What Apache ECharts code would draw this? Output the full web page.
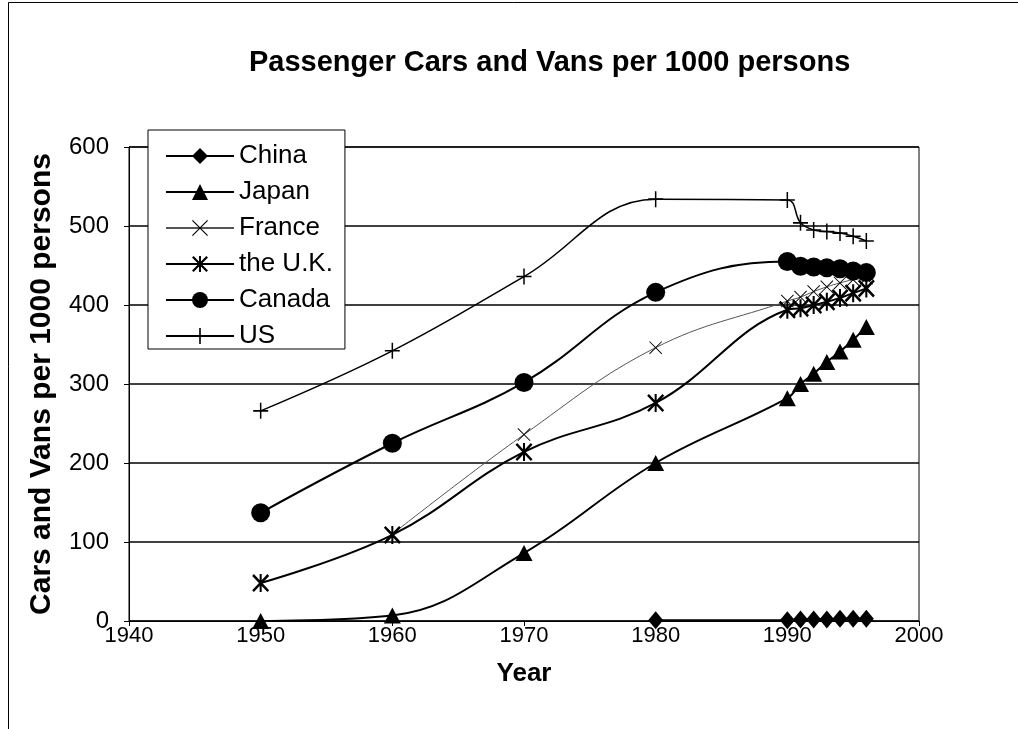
<!DOCTYPE html>
<html>
<head>
<meta charset="utf-8">
<script src="https://cdn.jsdelivr.net/npm/echarts@6/dist/echarts.min.js"></script>
<style>
html,body{margin:0;padding:0;background:#fff;}
#chart{width:1018px;height:729px;}
</style>
</head>
<body>
<div id="chart"></div>
<script>
// ---- data ----
const seriesNames = ['China', 'Japan', 'France', 'the U.K.', 'Canada', 'US'];
const yearsMain = [1950, 1960, 1970, 1980, 1990, 1991, 1992, 1993, 1994, 1995, 1996];
const yearsChina = [1980, 1990, 1991, 1992, 1993, 1994, 1995, 1996];
const yearsFrance = [1960, 1970, 1980, 1990, 1991, 1992, 1993, 1994, 1995, 1996];
const chinaValues = [1, 1, 2, 2, 2, 3, 3, 3];
const japanValues = [0, 7, 86, 200, 282, 300, 313, 328, 341, 356, 372];
const franceValues = [110, 236, 346, 405, 410, 417, 423, 428, 432, 434];
const ukValues = [48, 109, 214, 276, 394, 396, 400, 404, 409, 415, 421];
const canadaValues = [137, 225, 302, 416, 455, 449, 448, 447, 446, 443, 441];
const usValues = [266, 342, 436, 534, 533, 504, 495, 493, 491, 487, 481];
const xTicks = [1940, 1950, 1960, 1970, 1980, 1990, 2000];
const yTicks = [0, 100, 200, 300, 400, 500, 600];

function pairs(xs, ys) { return xs.map((x, i) => [x, ys[i]]); }

const FONT = 'Liberation Sans, Arial, sans-serif';
const PLUS = 'path://M9,0H11V9H20V11H11V20H9V11H0V9H9Z';
const XMARK = 'path://M0,1L1,0L20,19L19,20Z M19,0L20,1L1,20L0,19Z';
const STAR = 'path://M8.8,0L11.2,0L11.2,20L8.8,20Z M0,2L2,0L20,18L18,20Z M18,0L20,2L2,20L0,18Z';

function lineSeries(name, data, symbol, size, width, color, z) {
  return {
    name: name, type: 'line', data: data, smooth: 0.4,
    symbol: symbol, symbolSize: size, z: z,
    lineStyle: { color: color, width: width },
    itemStyle: { color: '#000', borderWidth: 0 },
    emphasis: { disabled: true }
  };
}

const chart = echarts.init(document.getElementById('chart'), null, { renderer: 'canvas' });
chart.setOption({
  animation: false,
  backgroundColor: '#fff',
  textStyle: { fontFamily: FONT },
  title: {
    text: 'Passenger Cars and Vans per 1000 persons',
    left: 244, top: 43,
    textStyle: { fontFamily: FONT, fontSize: 29, fontWeight: 'bold', color: '#000' }
  },
  graphic: [{
    type: 'rect', z: -10, silent: true,
    shape: { x: 8.5, y: 2.5, width: 1200, height: 1000 },
    style: { fill: 'transparent', stroke: '#000', lineWidth: 1 }
  }],
  legend: {
    orient: 'vertical', left: 148, top: 130,
    padding: [13, 12, 0, 17], itemGap: 10,
    itemWidth: 68, itemHeight: 20,
    backgroundColor: '#fff', borderColor: '#000', borderWidth: 1, borderRadius: 0,
    textStyle: { fontFamily: FONT, fontSize: 26, lineHeight: 22, color: '#000' },
    data: seriesNames, z: 20
  },
  grid: { left: 129, right: 99, top: 147, bottom: 108, show: true, borderColor: '#000', borderWidth: 1, backgroundColor: 'transparent' },
  xAxis: {
    type: 'value', min: xTicks[0], max: xTicks[xTicks.length - 1], interval: 10,
    name: 'Year', nameLocation: 'middle', nameGap: 40,
    nameTextStyle: { fontFamily: FONT, fontSize: 26, fontWeight: 'bold', color: '#000' },
    axisLine: { show: true, onZero: false, lineStyle: { color: '#000', width: 1 } },
    axisTick: { show: true, inside: false, length: 5, lineStyle: { color: '#000' } },
    axisLabel: { fontFamily: FONT, fontSize: 22, color: '#000', margin: 4, formatter: v => String(v) },
    splitLine: { show: false }
  },
  yAxis: {
    type: 'value', min: yTicks[0], max: yTicks[yTicks.length - 1], interval: 100,
    name: 'Cars and Vans per 1000 persons', nameLocation: 'middle', nameGap: 72, nameRotate: 90,
    nameTextStyle: { fontFamily: FONT, fontSize: 30, fontWeight: 'bold', color: '#000' },
    axisLine: { show: true, lineStyle: { color: '#000', width: 1 } },
    axisTick: { show: true, inside: false, length: 5, lineStyle: { color: '#000' } },
    axisLabel: { fontFamily: FONT, fontSize: 24, color: '#000', margin: 20, formatter: v => String(v) },
    splitLine: { show: true, lineStyle: { color: '#000', width: 1.5 } }
  },
  series: [
    lineSeries('China', pairs(yearsChina, chinaValues), 'diamond', [15, 18], 2, '#000', 2),
    lineSeries('Japan', pairs(yearsMain, japanValues), 'triangle', [17, 16], 2, '#000', 3),
    lineSeries('France', pairs(yearsFrance, franceValues), XMARK, [13, 13], 1, '#555', 4),
    lineSeries('the U.K.', pairs(yearsMain, ukValues), STAR, [17, 18], 2, '#000', 5),
    lineSeries('Canada', pairs(yearsMain, canadaValues), 'circle', 19, 2, '#000', 6),
    lineSeries('US', pairs(yearsMain, usValues), PLUS, [15, 16], 1.5, '#000', 7)
  ]
});
</script>
</body>
</html>
